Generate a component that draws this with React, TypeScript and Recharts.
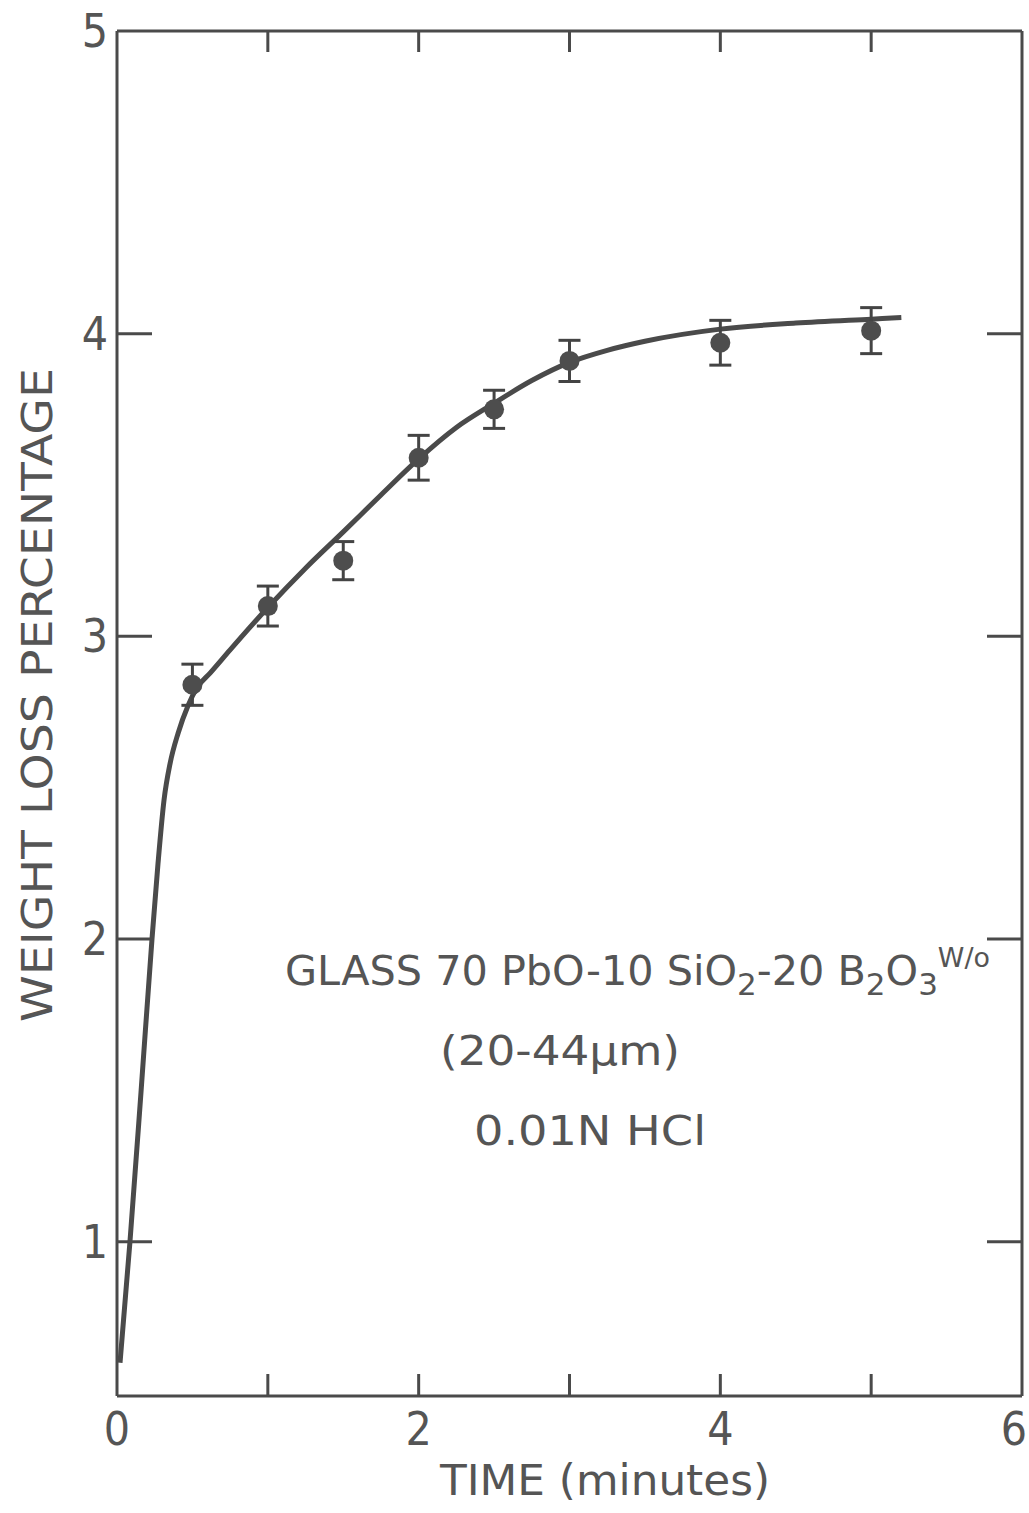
import { ComposedChart, Line, Scatter, ErrorBar, XAxis, YAxis } from 'recharts'

// measured points (minutes, weight loss %)
const pointTimes = [0.5, 1, 1.5, 2, 2.5, 3, 4, 5]
const pointLoss = [2.84, 3.1, 3.25, 3.59, 3.75, 3.91, 3.97, 4.01]
const pointErr = [0.068, 0.066, 0.063, 0.074, 0.063, 0.068, 0.074, 0.076]

// hand-drawn fitted curve
const curveTimes = [0.02, 0.086, 0.16, 0.232, 0.272, 0.312, 0.352, 0.405, 0.47, 0.53, 0.62, 0.75, 1, 1.25, 1.5, 1.75, 2, 2.25, 2.5, 2.75, 3, 3.25, 3.5, 4, 4.5, 5, 5.2]
const curveLoss = [0.6, 1.0, 1.5, 2.0, 2.25, 2.46, 2.58, 2.68, 2.77, 2.83, 2.88, 2.955, 3.095, 3.225, 3.345, 3.467, 3.586, 3.69, 3.77, 3.845, 3.905, 3.945, 3.975, 4.015, 4.035, 4.048, 4.053]

const xTicks = [0, 1, 2, 3, 4, 5, 6]
const xLabels = [0, 2, 4, 6]
const yTicks = [1, 2, 3, 4, 5]

const points = pointTimes.map((t, i) => ({ t, v: pointLoss[i], err: pointErr[i] }))
const curve = curveTimes.map((t, i) => ({ t, v: curveLoss[i] }))

const INK = '#4a4a4a'
const FONT = "'DejaVu Sans Condensed', 'DejaVu Sans', sans-serif"

function BottomTick({ x, y, payload }: any) {
  const v = payload.value
  // last label sits inside the page edge
  const last = v === 6
  return (
    <g>
      {v > 0 && v < 6 && <line x1={x} y1={y} x2={x} y2={y - 22} stroke={INK} strokeWidth={3} />}
      {xLabels.includes(v) && (
        <text x={last ? x + 5 : x} y={y + 33} textAnchor={last ? 'end' : 'middle'} dominantBaseline="central"
          fontFamily={FONT} fontSize={46} fill="#555">
          {v}
        </text>
      )}
    </g>
  )
}

function TopTick({ x, y, payload }: any) {
  const v = payload.value
  if (v <= 0 || v >= 6) return <g />
  return <line x1={x} y1={y} x2={x} y2={y + 21} stroke={INK} strokeWidth={3} />
}

function LeftTick({ x, y, payload }: any) {
  const v = payload.value
  return (
    <g>
      {v < 5 && <line x1={x} y1={y} x2={x + 35} y2={y} stroke={INK} strokeWidth={3} />}
      <text x={x - 9} y={y} textAnchor="end" dominantBaseline="central" fontFamily={FONT} fontSize={46} fill="#555">
        {v}
      </text>
    </g>
  )
}

function RightTick({ x, y, payload }: any) {
  const v = payload.value
  if (v >= 5) return <g />
  return <line x1={x} y1={y} x2={x - 35} y2={y} stroke={INK} strokeWidth={3} />
}

const Dot = (props: any) => <circle cx={props.cx} cy={props.cy} r={10} fill="#4d4d4d" />

export default function App() {
  return (
    <div style={{ position: 'absolute', left: 0, top: 0, width: 1029, height: 1513, background: '#fff' }}>
      <ComposedChart width={1029} height={1513} margin={{ top: 21, right: 2, bottom: 77, left: 77 }}>
        <XAxis xAxisId="b" dataKey="t" type="number" domain={[0, 6]} ticks={xTicks} interval={0}
          height={40} tickSize={0} tickMargin={0} tick={<BottomTick />} allowDataOverflow
          axisLine={{ stroke: INK, strokeWidth: 3 }} tickLine={false} />
        <XAxis xAxisId="t" orientation="top" dataKey="t" type="number" domain={[0, 6]} ticks={xTicks} interval={0}
          height={10} tickSize={0} tickMargin={0} tick={<TopTick />} allowDataOverflow
          axisLine={{ stroke: INK, strokeWidth: 3 }} tickLine={false} />
        <YAxis yAxisId="l" dataKey="v" type="number" domain={[0.49, 5]} ticks={yTicks} interval={0}
          width={40} tickSize={0} tickMargin={0} tick={<LeftTick />} allowDataOverflow
          axisLine={{ stroke: INK, strokeWidth: 3 }} tickLine={false} />
        <YAxis yAxisId="r" orientation="right" type="number" domain={[0.49, 5]} ticks={yTicks} interval={0}
          width={5} tickSize={0} tickMargin={0} tick={<RightTick />} allowDataOverflow
          axisLine={{ stroke: INK, strokeWidth: 3 }} tickLine={false} />
        <Line xAxisId="b" yAxisId="l" data={curve} dataKey="v" type="monotone" stroke={INK}
          strokeWidth={5} dot={false} activeDot={false} isAnimationActive={false} />
        <Scatter xAxisId="b" yAxisId="l" data={points} dataKey="v" shape={Dot} isAnimationActive={false}>
          <ErrorBar dataKey="err" direction="y" width={11} strokeWidth={3} stroke="#444" isAnimationActive={false} />
        </Scatter>
      </ComposedChart>
      <svg width={1029} height={1513} style={{ position: 'absolute', left: 0, top: 0, pointerEvents: 'none' }}>
        <g fontFamily={FONT} fill="#555">
          <text x={37} y={695} transform="rotate(-90 37 695)" textAnchor="middle" dominantBaseline="central"
            fontSize={42} textLength={654} lengthAdjust="spacingAndGlyphs">
            WEIGHT LOSS PERCENTAGE
          </text>
          <text x={605} y={1480} textAnchor="middle" dominantBaseline="central" fontSize={42}
            textLength={330} lengthAdjust="spacingAndGlyphs">
            TIME (minutes)
          </text>
          <text x={285} y={985} fontSize={40} textLength={705} lengthAdjust="spacingAndGlyphs">
            GLASS  70 PbO-10 SiO<tspan dy={10} fontSize={30}>2</tspan>
            <tspan dy={-10}>-20 B</tspan><tspan dy={10} fontSize={30}>2</tspan>
            <tspan dy={-10}>O</tspan><tspan dy={10} fontSize={30}>3</tspan>
            <tspan dy={-28} fontSize={26}>W/o</tspan>
          </text>
          <text x={560} y={1065} textAnchor="middle" fontSize={40} textLength={240} lengthAdjust="spacingAndGlyphs">
            (20-44μm)
          </text>
          <text x={590} y={1145} textAnchor="middle" fontSize={40} textLength={232} lengthAdjust="spacingAndGlyphs">
            0.01N HCl
          </text>
        </g>
      </svg>
    </div>
  )
}
